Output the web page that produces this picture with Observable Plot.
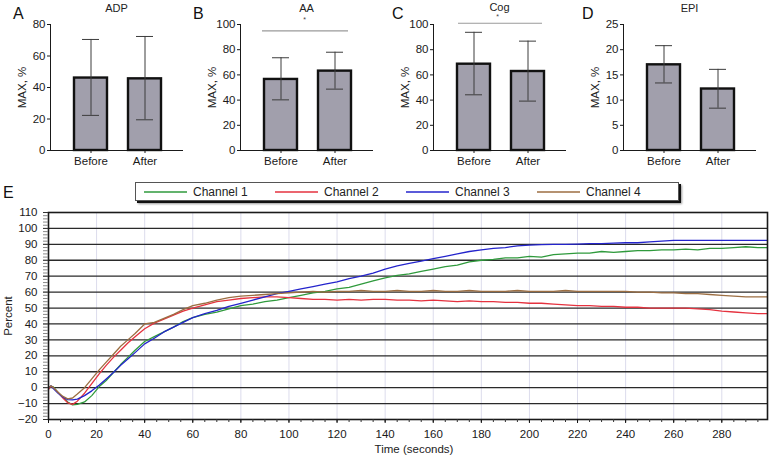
<!DOCTYPE html>
<html><head><meta charset="utf-8">
<script src="https://cdn.jsdelivr.net/npm/d3@7"></script>
<script src="https://cdn.jsdelivr.net/npm/@observablehq/plot@0.6"></script>
<style>
body{margin:0;background:#fff;}
#root{position:relative;width:771px;height:457px;overflow:hidden;font-family:"Liberation Sans",Arial,Helvetica,sans-serif;color:#222;background:#fff;}
.pane{position:absolute;}
.letter{position:absolute;font-size:16px;line-height:16px;color:#111;}
#legend{position:absolute;left:135px;top:182px;width:534px;height:17px;border:1px solid #555;box-shadow:2px 2px 0 #111,3px 3px 2px #999;background:#fff;display:flex;align-items:center;padding-left:8px;box-sizing:content-box;font-size:12px;}
.item{display:inline-flex;align-items:center;width:131px;}
.sw{display:block;margin-right:6px;}
</style></head><body><div id="root"></div>
<script>
// ---------- Panels A-D data ----------
const groups = ["Before", "After"];
const adpMean = [46, 45.5], adpLow = [22.3, 19.5], adpHigh = [70.5, 72.4];
const aaMean = [56.4, 63], aaLow = [40.2, 48.7], aaHigh = [73.6, 78];
const cogMean = [68.5, 62.7], cogLow = [44.2, 39.2], cogHigh = [93.8, 86.8];
const epiMean = [17, 12.2], epiLow = [13.4, 8.4], epiHigh = [20.8, 16.1];
const adpTicks = [0, 20, 40, 60, 80];
const aaTicks = [0, 20, 40, 60, 80, 100];
const cogTicks = [0, 20, 40, 60, 80, 100];
const epiTicks = [0, 5, 10, 15, 20, 25];
const panelTitles = ["ADP", "AA", "Cog", "EPI"];
const panelLetters = ["A", "B", "C", "D", "E"];
const yLabelTop = "MAX, %";
const sigMark = "*";
const aaSigLevel = 95, cogSigLevel = 101;

// ---------- Panel E data ----------
const times = [0,1,2,4,6,8,10,12,15,18,21,24,27,30,33,36,40,44,48,52,56,60,65,70,75,80,85,90,95,100,
  105,110,115,120,125,130,135,140,145,150,155,160,165,170,175,180,185,190,195,200,
  205,210,215,220,225,230,235,240,245,250,255,260,265,270,275,280,285,290,295,299];
const channel1 = [0,1,0.5,-3,-6,-9,-10.8,-10.5,-9,-5, 0.5,4.5,9.5,14.5,19,23.5, 29,32,35,38,41.5,44,
  46,47.5,49.5,51.5,52.5,54,55,56.5, 58,59.5,60.5,62,63,65,67,69,70.5,71.5,
  73,74.5,76,77,79,80,80.5,81.5,81.5,82.5, 82,83.5,84,84.5,84.5,85.5,85,85.5,86,86,
  86.5,86.5,87,86.5,87.5,87.5,88,88.5,88,88];
const channel2 = [-1,1,0,-3,-6.5,-9.5,-10.5,-8.5,-3.5,2.5, 8.5,14,19,23.5,28,32, 37,40.5,43,45.5,48,50,
  52,54,55,56,56.5,57,57,56.5, 56,55.5,55.5,55,55.5,55,55.5,55.5,55,55,
  54.5,55,54.5,54,54.5,54,54,53.5,53.5,53, 53,52.5,52,51.5,51.5,51,51,50.5,50.5,50,
  50,50,50,49.5,49,48,47.5,47,46.5,46.5];
const channel3 = [0,1,-0.5,-3.5,-6,-7.5,-7.7,-7.2,-5,-2, 1.5,5.5,9.5,14,18,22, 27.5,31,35,38,41,44,
  46.5,48.5,51,53,55,57,59,60.5, 62,63.5,65,66.5,68.5,70,72,74.5,76.5,78,
  79.5,81,82.5,84,85.5,86.5,87.5,88,89,89.5, 89.8,90,90,90.2,90.5,90.5,90.8,91,91,91.5,
  92,92.5,92.5,92.5,92.5,92.5,92.5,92.5,92.5,92.5];
const channel4 = [0,1,0,-3,-5.5,-7,-6.5,-4,0,5.5, 11,16,21,26,30,34, 40,41,43.5,46,49,51.5,
  53,55,56.5,57.5,58,58.5,59,59.5, 60,60.5,60,60.5,60.5,61,60.5,60.5,61,60.5,
  60.5,61,60.5,60.5,61,60.5,60.5,60.5,61,60.5, 60.5,60.5,61,60.5,60.5,60.5,60.5,60.5,60,60,
  59.5,59.5,59,59,58.5,58,57.5,57,57,57];
const channelNames = ["Channel 1", "Channel 2", "Channel 3", "Channel 4"];
const channelColors = ["#2f9a3c", "#e5323f", "#2424cc", "#9c6e42"];
const xTickLabels = [0,20,40,60,80,100,120,140,160,180,200,220,240,260,280];
const xMinorTicks = d3.range(0, 299, 5);
const yTickLabels = [-20,-10,0,10,20,30,40,50,60,70,80,90,100,110];
const yMinorTicks = d3.range(-20, 111, 2);
const yGridLines = [-10,0,10,20,30,40,50,60,70,80,90,100];
const xGridLines = [20,40,60,80,100,120,140,160,180,200,220,240,260,280];
const xLabelE = "Time (seconds)", yLabelE = "Percent";

const FONT = '"Liberation Sans", Arial, Helvetica, sans-serif';
const root = document.getElementById("root");
const barFill = "#a19fac";
const errColor = "#3c3c3c";

function place(node, left, top) {
  const d = document.createElement("div");
  d.className = "pane";
  d.style.left = left + "px"; d.style.top = top + "px";
  d.appendChild(node);
  root.appendChild(d);
}
function letter(txt, left, top) {
  const d = document.createElement("div");
  d.className = "letter"; d.textContent = txt;
  d.style.left = left + "px"; d.style.top = top + "px";
  root.appendChild(d);
}

const panels = [
  {title: panelTitles[0], mean: adpMean, low: adpLow, high: adpHigh, ticks: adpTicks, left: 0, mL: 50, sig: null, tDy: -16},
  {title: panelTitles[1], mean: aaMean, low: aaLow, high: aaHigh, ticks: aaTicks, left: 190, mL: 50,
    sig: {y: aaSigLevel, iL: 22, iR: 24, starDy: -5}, tDy: -16},
  {title: panelTitles[2], mean: cogMean, low: cogLow, high: cogHigh, ticks: cogTicks, left: 383, mL: 50,
    sig: {y: cogSigLevel, iL: 25, iR: 23, starDy: -8}, tDy: -17},
  {title: panelTitles[3], mean: epiMean, low: epiLow, high: epiHigh, ticks: epiTicks, left: 573, mL: 50, sig: null, tDy: -16}
];

panels.forEach((p) => {
  const rows = groups.map((g, i) => ({group: g, mean: p.mean[i], low: p.low[i], high: p.high[i]}));
  const yMax = p.ticks[p.ticks.length - 1];
  const marks = [
    Plot.barY(rows, {x: "group", y: "mean", fill: barFill, stroke: "#111", strokeWidth: 2.4}),
    Plot.ruleX(rows, {x: "group", y1: "low", y2: "high", stroke: errColor, strokeWidth: 1}),
    Plot.tickY(rows, {x: "group", y: "low", stroke: errColor, strokeWidth: 1, insetLeft: 8, insetRight: 8}),
    Plot.tickY(rows, {x: "group", y: "high", stroke: errColor, strokeWidth: 1, insetLeft: 8, insetRight: 8}),
    Plot.text([p.title], {text: d => d, frameAnchor: "top", dy: p.tDy, lineAnchor: "middle", textAnchor: "middle", fontSize: 11, fill: "#222"}),
    Plot.text([yLabelTop], {text: d => d, frameAnchor: "left", dx: -28, rotate: -90, textAnchor: "middle", lineAnchor: "middle", fontSize: 11.5, fill: "#222"})
  ];
  if (p.sig) {
    marks.push(Plot.ruleY([p.sig.y], {stroke: "#9a9a9a", strokeWidth: 1.2, insetLeft: p.sig.iL, insetRight: p.sig.iR}));
    marks.push(Plot.text([sigMark], {text: d => d, frameAnchor: "top", dy: p.sig.starDy, lineAnchor: "middle", textAnchor: "middle", fontSize: 7, fill: "#444", dx: -2}));
  }
  const chart = Plot.plot({
    width: 190, height: 172,
    marginLeft: p.mL, marginRight: 8, marginTop: 24, marginBottom: 22,
    style: {fontFamily: FONT, fontSize: "11.5px", background: "transparent", color: "#1a1a1a", overflow: "visible"},
    x: {type: "band", domain: groups, paddingInner: 0.38, paddingOuter: 0.4, align: 0.55, label: null, tickSize: 3, tickPadding: 3, line: true},
    y: {domain: [0, yMax], ticks: p.ticks, label: null, tickSize: 3, tickPadding: 2, line: true},
    marks
  });
  place(chart, p.left, 0);
});

letter(panelLetters[0], 13, 6);
letter(panelLetters[1], 193, 6);
letter(panelLetters[2], 392, 6);
letter(panelLetters[3], 582, 6);

// ---------- Panel E ----------
const channelValues = [channel1, channel2, channel3, channel4];
const rowsE = channelNames.flatMap((name, k) => times.map((t, i) => ({t, v: channelValues[k][i], channel: name})));

const chartE = Plot.plot({
  width: 771, height: 252,
  marginLeft: 48, marginRight: 4, marginTop: 7, marginBottom: 38,
  style: {fontFamily: FONT, fontSize: "11.5px", background: "transparent", color: "#1a1a1a", overflow: "visible"},
  x: {domain: [0, 299], label: null},
  y: {domain: [-20, 110], label: null},
  color: {domain: channelNames, range: channelColors},
  marks: [
    Plot.ruleX(xGridLines, {stroke: "#dcdcec", strokeWidth: 1}),
    Plot.ruleY(yGridLines, {stroke: "#2a2a2a", strokeWidth: 1.3}),
    Plot.line(rowsE, {x: "t", y: "v", z: "channel", stroke: "channel", strokeWidth: 1.3}),
    Plot.frame({stroke: "#1a1a1a", strokeWidth: 1.6}),
    Plot.axisY({ticks: yMinorTicks, tickSize: 5, tickFormat: () => "", stroke: "#8a8a8a", label: null}),
    Plot.axisY({ticks: yTickLabels, tickSize: 5, tickPadding: 6, label: null, stroke: "#333"}),
    Plot.axisX({ticks: xMinorTicks, tickSize: 3, tickFormat: () => "", stroke: "#333", label: null}),
    Plot.axisX({ticks: xTickLabels, tickSize: 4, tickPadding: 6, label: null, stroke: "#111"}),
    Plot.text([yLabelE], {text: d => d, frameAnchor: "left", dx: -40, rotate: -90, textAnchor: "middle", lineAnchor: "middle", fontSize: 11.5, fill: "#222"}),
    Plot.text([xLabelE], {text: d => d, frameAnchor: "bottom", dx: 6, dy: 30, textAnchor: "middle", lineAnchor: "middle", fontSize: 11.5, fill: "#222"})
  ]
});
place(chartE, 0, 205);
letter(panelLetters[4], 3, 185);

// legend
const lg = document.createElement("div");
lg.id = "legend";
const SVGNS = "http://www.w3.org/2000/svg";
channelNames.forEach((name, k) => {
  const it = document.createElement("span");
  it.className = "item";
  const sw = document.createElementNS(SVGNS, "svg");
  sw.setAttribute("width", "43"); sw.setAttribute("height", "6");
  sw.setAttribute("class", "sw");
  const ln = document.createElementNS(SVGNS, "line");
  ln.setAttribute("x1", "0"); ln.setAttribute("x2", "43");
  ln.setAttribute("y1", "3"); ln.setAttribute("y2", "3");
  ln.setAttribute("stroke", channelColors[k]); ln.setAttribute("stroke-width", "1.6");
  sw.appendChild(ln);
  const tx = document.createElement("span");
  tx.textContent = name;
  it.appendChild(sw); it.appendChild(tx);
  lg.appendChild(it);
});
root.appendChild(lg);
</script></body></html>
